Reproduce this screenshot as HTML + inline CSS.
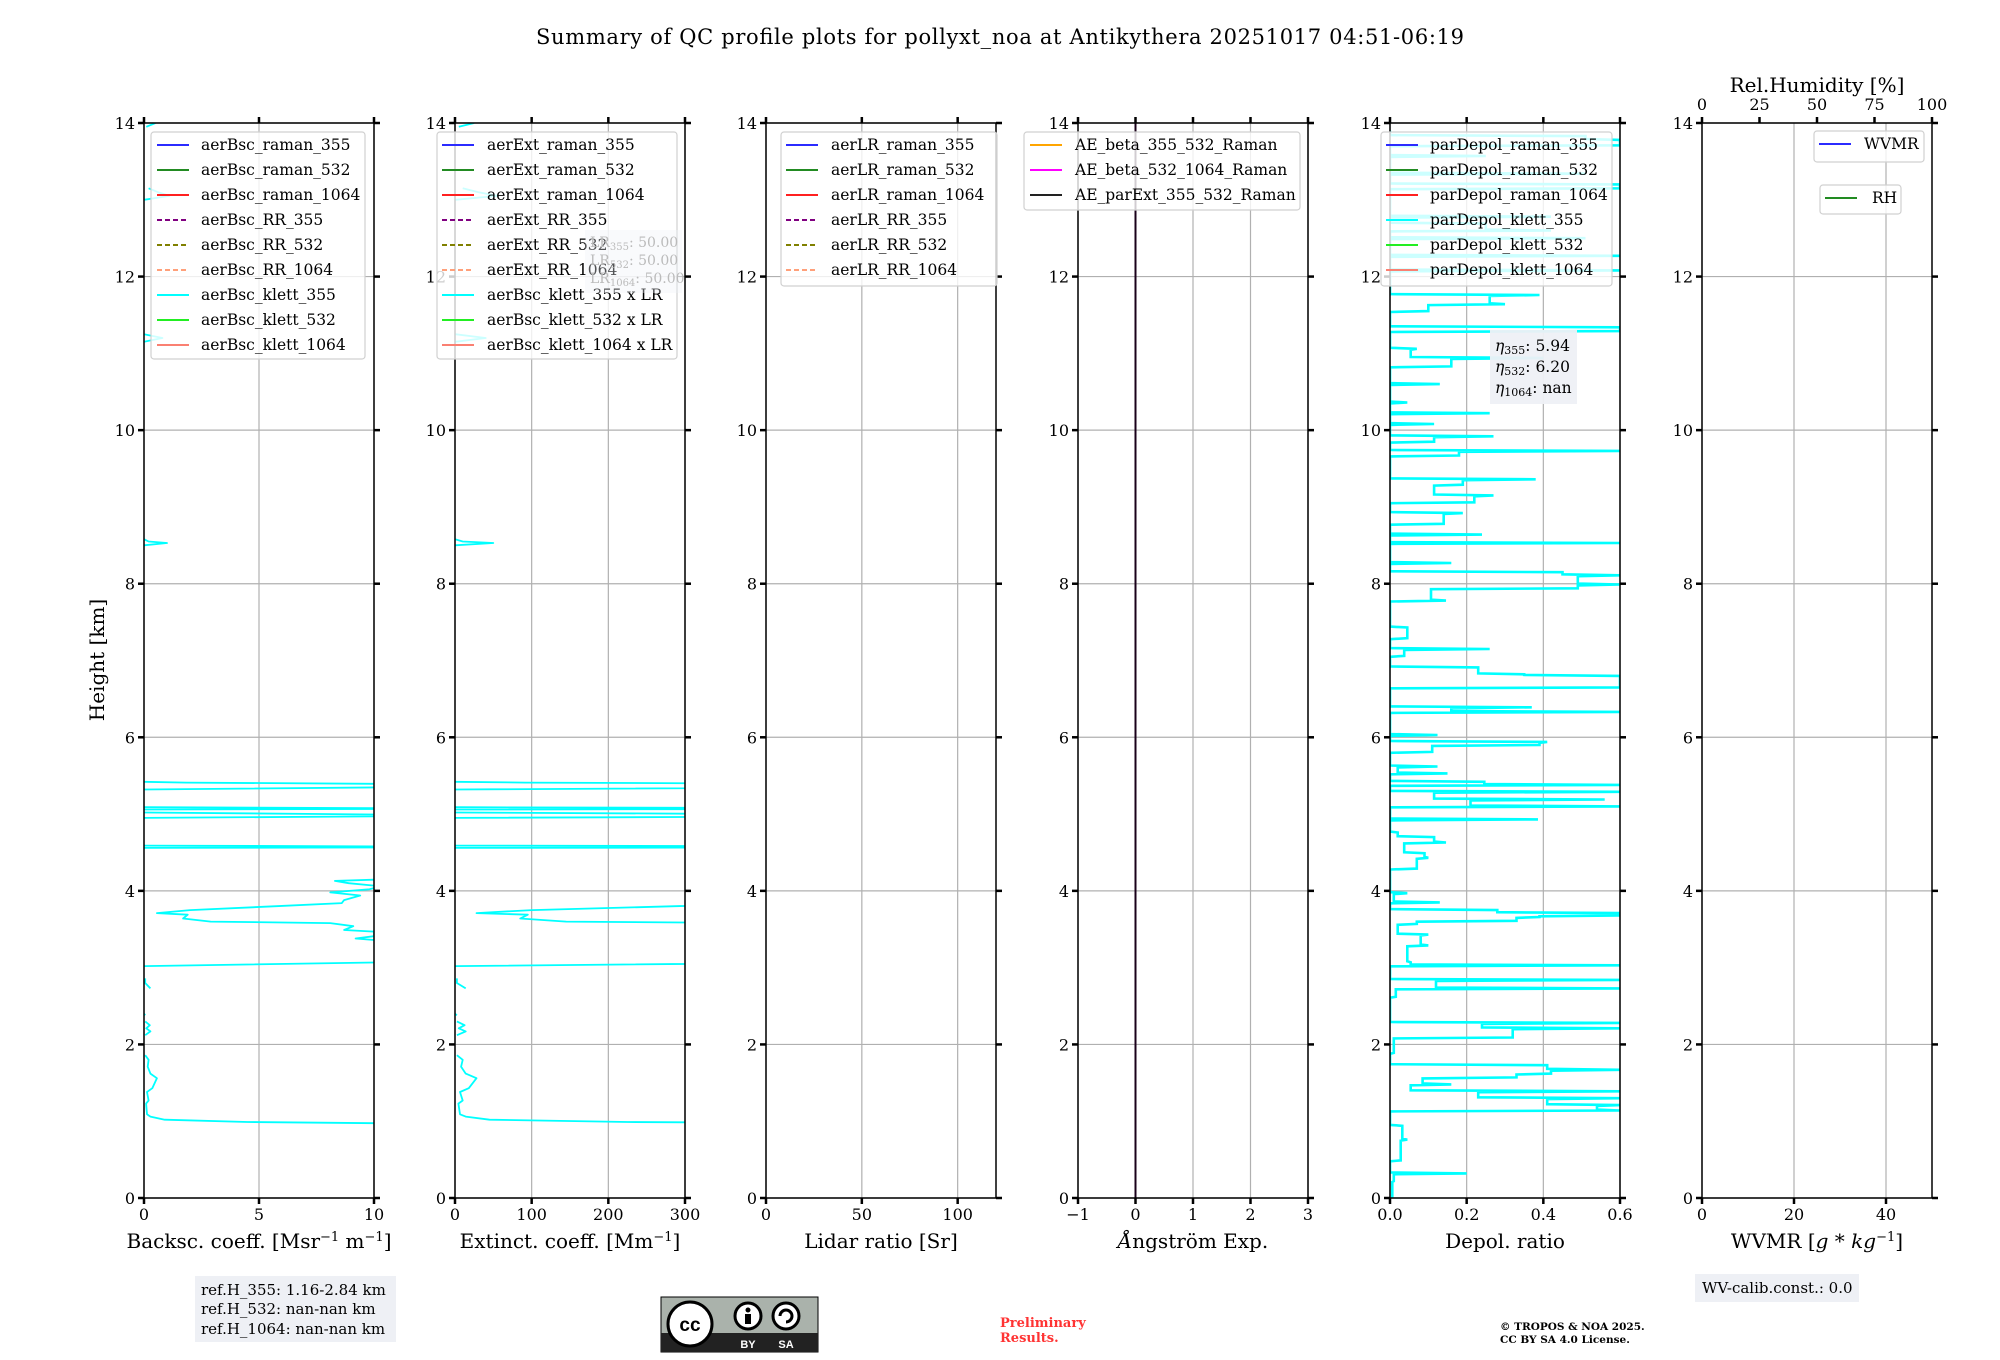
<!DOCTYPE html>
<html><head><meta charset="utf-8"><style>
html,body{margin:0;padding:0;background:#fff;}
svg{display:block;font-family:"DejaVu Serif","Liberation Serif",serif;}
</style></head><body>
<svg id="fig" width="2000" height="1360" viewBox="0 0 2000 1360" xmlns="http://www.w3.org/2000/svg">
<text x="1000" y="44" text-anchor="middle" font-size="21" textLength="928">Summary of QC profile plots for pollyxt_noa at Antikythera 20251017 04:51-06:19</text>
<text transform="translate(104,660) rotate(-90)" text-anchor="middle" font-size="20">Height [km]</text>
<g id="panels"></g>
<g>
<rect x="195" y="1276" width="201" height="66" fill="#eef0f5"/>
<text x="201" y="1295" font-size="15">ref.H_355: 1.16-2.84 km</text>
<text x="201" y="1314" font-size="15">ref.H_532: nan-nan km</text>
<text x="201" y="1334" font-size="15">ref.H_1064: nan-nan km</text>
</g>
<g>
<rect x="661" y="1297" width="157" height="55" fill="#aab2ab" stroke="#000" stroke-width="1"/>
<rect x="661" y="1333" width="157" height="19" fill="#222"/>
<circle cx="690" cy="1324" r="22" fill="#fff" stroke="#000" stroke-width="3"/>
<text x="690" y="1331" text-anchor="middle" font-size="19" font-weight="bold" font-family="Liberation Sans,sans-serif">cc</text>
<circle cx="748" cy="1316" r="13" fill="#fff" stroke="#000" stroke-width="3"/>
<circle cx="748" cy="1310" r="2.5" fill="#000"/>
<rect x="745" y="1314" width="6" height="10" fill="#000"/>
<circle cx="786" cy="1316" r="13" fill="#fff" stroke="#000" stroke-width="3"/>
<path d="M780 1316 A6 6 0 1 1 786 1322" fill="none" stroke="#000" stroke-width="3"/>
<text x="748" y="1348" text-anchor="middle" font-size="11" font-weight="bold" fill="#fff" font-family="Liberation Sans,sans-serif">BY</text>
<text x="786" y="1348" text-anchor="middle" font-size="11" font-weight="bold" fill="#fff" font-family="Liberation Sans,sans-serif">SA</text>
</g>
<text x="1000" y="1327" font-size="13" font-weight="bold" fill="#ff3333">Preliminary</text>
<text x="1000" y="1342" font-size="13" font-weight="bold" fill="#ff3333">Results.</text>
<text x="1500" y="1330" font-size="10.5" font-weight="bold">© TROPOS &amp; NOA 2025.</text>
<text x="1500" y="1343" font-size="10.5" font-weight="bold">CC BY SA 4.0 License.</text>
<g>
<rect x="1695" y="1274" width="164" height="28" fill="#eef0f5"/>
<text x="1702" y="1293" font-size="15">WV-calib.const.: 0.0</text>
</g>
</svg>
<script>
// ---- data ----
const heightTicks = [0,2,4,6,8,10,12,14];
const bscHeights = [0.96,0.99,1.02,1.06,1.09,1.23,1.27,1.38,1.43,1.56,1.62,1.71,1.80,1.86,null,
 2.12,2.17,2.21,2.25,2.30,null,2.38,2.40,null,2.73,2.80,2.86,null,
 3.02,3.09,3.14,3.36,3.38,3.41,3.47,3.49,3.54,3.58,3.60,3.64,3.69,3.71,3.75,3.80,3.84,3.88,3.94,3.98,4.02,4.06,4.10,4.13,4.15,4.19,null,
 4.56,4.57,4.59,null,4.95,4.98,5.00,5.02,null,5.06,5.07,5.09,null,5.32,5.36,5.39,5.41,5.42,null,
 8.50,8.53,8.55,8.58,null,11.15,11.2,11.25,null,13.0,13.05,13.1,13.15,null,13.95,14.0];
const bscValues = [15,4.5,0.9,0.28,0.13,0.09,0.2,0.13,0.36,0.56,0.28,0.16,0.2,0.05,null,
 0.05,0.28,0.1,0.25,0.05,null,0.05,0.0,null,0.28,0.05,0.05,null,
 0.0,15,14,10,9.2,10,10,8.7,9.1,8.1,2.9,1.7,1.9,0.56,2.0,5.75,8.6,8.7,9.4,8.1,9.8,10.3,8.9,8.3,10.5,12,null,
 0,20,0,null,0,15,8.25,0,null,0,15,0,null,0,15,12,1.85,0,null,
 0,1.0,0.2,0,null,0,0.8,0,null,0,1.1,0.6,0.2,null,0.1,0.5];
const lidarRatio = 50;
const depolHeights = [0.0,0.22,0.32,0.35,0.49,0.76,0.94,1.03,1.14,1.18,1.21,1.26,1.30,1.35,1.39,1.44,1.48,1.53,1.57,1.62,1.67,1.73,1.80,1.89,
 2.09,2.21,2.25,2.28,2.34,2.62,2.73,2.75,2.84,2.93,3.03,3.07,3.16,3.25,3.29,3.38,3.43,3.52,3.57,3.61,3.66,3.68,3.71,3.75,3.79,3.85,3.90,3.97,
 4.24,4.29,4.43,4.49,4.56,4.63,4.70,4.76,4.79,4.93,5.01,5.10,5.15,5.19,5.24,5.29,5.33,5.38,5.42,5.44,5.53,5.58,5.62,5.67,5.81,5.90,5.94,5.99,
 6.03,6.10,6.28,6.33,6.35,6.39,6.46,6.65,6.73,6.80,6.82,6.87,6.91,6.96,7.06,7.15,7.20,7.29,7.43,7.53,7.78,7.85,7.94,7.99,8.04,8.11,8.15,8.22,8.27,
 8.46,8.53,8.57,8.64,8.71,8.78,8.92,8.99,9.06,9.15,9.22,9.29,9.36,9.43,9.67,9.73,9.80,9.85,9.92,10.04,10.08,10.15,10.22,10.29,10.36,10.48,10.60,10.69,
 10.83,10.94,10.99,11.06,11.13,11.29,11.34,11.36,11.55,11.64,11.71,11.76,11.80,12.08,12.18,12.27,12.36,12.50,12.55,12.60,12.69,12.73,12.78,12.87,
 13.15,13.20,13.27,13.34,13.43,13.57,13.64,13.71,13.78,13.83,13.85,13.90];
const depolValues = [0.006,0.01,0.2,0.0,0.028,0.045,0.032,0.0,0.6,0.54,0.6,0.41,0.6,0.23,0.6,0.054,0.16,0.085,0.33,0.42,0.6,0.41,0.0,0.01,
 0.32,0.6,0.24,0.6,0.0,0.015,0.6,0.12,0.6,0.0,0.6,0.054,0.045,0.045,0.1,0.08,0.1,0.02,0.07,0.33,0.39,0.6,0.6,0.28,0.0,0.13,0.01,0.045,
 0.0,0.07,0.1,0.09,0.037,0.146,0.115,0.02,0.0,0.386,0.0,0.6,0.21,0.56,0.115,0.6,0.0,0.6,0.246,0.0,0.15,0.02,0.124,0.0,0.11,0.39,0.41,0.0,
 0.124,0.0,0.0,0.6,0.16,0.37,0.0,0.6,0.6,0.6,0.35,0.23,0.23,0.0,0.037,0.26,0.0,0.045,0.045,0.0,0.146,0.107,0.49,0.6,0.49,0.6,0.45,0.0,0.16,
 0.0,0.6,0.0,0.24,0.0,0.14,0.19,0.0,0.22,0.27,0.115,0.19,0.38,0.0,0.18,0.6,0.0,0.115,0.27,0.0,0.115,0.0,0.26,0.0,0.045,0.0,0.13,0.0,
 0.16,0.4,0.054,0.07,0.0,0.6,0.6,0.0,0.1,0.3,0.26,0.39,0.0,0.6,0.0,0.6,0.0,0.51,0.0,0.42,0.25,0.0,0.42,0.0,
 0.6,0.6,0.0,0.51,0.0,0.25,0.0,0.6,0.6,0.51,0.0,0.0];
const aeHeights = [0,14];
const aeValues = [0,0];

// ---- layout ----
const NS="http://www.w3.org/2000/svg";
const Y0=1198, Y14=123, PW=230;
const lefts=[144,455,766,1078,1390,1702];
const yOf=h=>Y0-(h/14)*(Y0-Y14);
const panelsG=document.getElementById('panels');
function mk(tag,attrs,parent){const e=document.createElementNS(NS,tag);for(const k in attrs)e.setAttribute(k,attrs[k]);(parent||panelsG).appendChild(e);return e;}
const panels=[
 {dom:[0,10],ticks:[0,5,10],labels:['0','5','10'],xl:'Backsc. coeff. [Msr<tspan dy="-7" font-size="13">−1</tspan><tspan dy="7"> m</tspan><tspan dy="-7" font-size="13">−1</tspan><tspan dy="7">]</tspan>',name:'backscatter'},
 {dom:[0,300],ticks:[0,100,200,300],labels:['0','100','200','300'],xl:'Extinct. coeff. [Mm<tspan dy="-7" font-size="13">−1</tspan><tspan dy="7">]</tspan>',name:'extinction'},
 {dom:[0,120],ticks:[0,50,100],labels:['0','50','100'],xl:'Lidar ratio [Sr]',name:'lidar-ratio'},
 {dom:[-1,3],ticks:[-1,0,1,2,3],labels:['−1','0','1','2','3'],xl:'<tspan font-style="italic">Å</tspan>ngström Exp.',name:'angstrom'},
 {dom:[0,0.6],ticks:[0,0.2,0.4,0.6],labels:['0.0','0.2','0.4','0.6'],xl:'Depol. ratio',name:'depol'},
 {dom:[0,50],ticks:[0,20,40],labels:['0','20','40'],xl:'WVMR [<tspan font-style="italic">g</tspan> * <tspan font-style="italic">kg</tspan><tspan dy="-7" font-size="13">−1</tspan><tspan dy="7">]</tspan>',name:'wvmr'}
];
function pathFrom(hs,vs,xf){let d='',pen=false;for(let i=0;i<hs.length;i++){if(hs[i]===null||vs[i]===null){pen=false;continue;}d+=(pen?'L':'M')+xf(vs[i]).toFixed(1)+' '+yOf(hs[i]).toFixed(1)+' ';pen=true;}return d;}
function stepPath(hs,vs,xf){
 let d='M'+xf(vs[0]).toFixed(1)+' '+yOf(hs[0]).toFixed(1)+' ';
 for(let i=1;i<hs.length;i++){
  const v1=vs[i-1],v2=vs[i],h1=hs[i-1],h2=hs[i],e=0.012;
  if(v2>=v1){d+='L'+xf(v1).toFixed(1)+' '+yOf(Math.max(h1,h2-e)).toFixed(1)+' L'+xf(v2).toFixed(1)+' '+yOf(h2).toFixed(1)+' ';}
  else{d+='L'+xf(v2).toFixed(1)+' '+yOf(Math.min(h2,h1+e)).toFixed(1)+' L'+xf(v2).toFixed(1)+' '+yOf(h2).toFixed(1)+' ';}
 }
 return d;
}
panels.forEach((p,i)=>{
 const L=lefts[i],R=L+PW;
 const xf=v=>L+(v-p.dom[0])/(p.dom[1]-p.dom[0])*PW;
 const g=mk('g',{});
 
 
 const cp=mk('clipPath',{id:'cp'+i},g);mk('rect',{x:L,y:Y14,width:PW,height:Y0-Y14},cp);
 heightTicks.forEach(h=>{const l=mk('line',{x1:L,x2:R,y1:yOf(h),y2:yOf(h),stroke:'#b0b0b0','stroke-width':1.2},g);
  });
 p.ticks.forEach(t=>{const l=mk('line',{x1:xf(t),x2:xf(t),y1:Y14,y2:Y0,stroke:'#b0b0b0','stroke-width':1.2},g);
  });
 const dg=mk('g',{'clip-path':'url(#cp'+i+')'},g);
 if(i===0||i===1){const f=i===0?(v=>v):(v=>v*lidarRatio);
  const pa=mk('path',{d:pathFrom(bscHeights,bscValues.map(v=>v===null?null:f(v)),xf),fill:'none',stroke:'#00ffff','stroke-width':1.8,'stroke-linejoin':'round'},dg);
  }
 if(i===3){const pa=mk('path',{d:pathFrom(aeHeights,aeValues,xf),fill:'none',stroke:'#1a001a','stroke-width':2},dg);
  }
 if(i===4){const pa=mk('path',{d:stepPath(depolHeights,depolValues,xf),fill:'none',stroke:'#00ffff','stroke-width':2.6},dg);
  }
 mk('rect',{x:L,y:Y14,width:PW,height:Y0-Y14,fill:'none',stroke:'#000','stroke-width':1.5},g);
 heightTicks.forEach(h=>{const y=yOf(h);
  mk('line',{x1:L-6,x2:L,y1:y,y2:y,stroke:'#000','stroke-width':2.5},g);
  mk('line',{x1:R,x2:R+6,y1:y,y2:y,stroke:'#000','stroke-width':2.5},g);
  const t=mk('text',{x:L-9,y:y+6,'text-anchor':'end','font-size':16},g);t.textContent=h;
  });
 p.ticks.forEach((tk,j)=>{const x=xf(tk);
  mk('line',{x1:x,x2:x,y1:Y0,y2:Y0+6,stroke:'#000','stroke-width':2.5},g);
  if(i!==5)mk('line',{x1:x,x2:x,y1:Y14-6,y2:Y14,stroke:'#000','stroke-width':2.5},g);
  const t=mk('text',{x:x,y:1220,'text-anchor':'middle','font-size':16},g);t.textContent=p.labels[j];
  });
 const xl=mk('text',{x:L+PW/2,y:1248,'text-anchor':'middle','font-size':20},g);xl.innerHTML=p.xl;
 
 if(i===5){[0,25,50,75,100].forEach(v=>{const x=L+v/100*PW;
   mk('line',{x1:x,x2:x,y1:Y14-6,y2:Y14,stroke:'#000','stroke-width':2.5},g);
   const t=mk('text',{x:x,y:110,'text-anchor':'middle','font-size':16},g);t.textContent=v;
   });
  const rt=mk('text',{x:L+PW/2,y:92,'text-anchor':'middle','font-size':20},g);rt.textContent='Rel.Humidity [%]';
  }
});
// legends
function legend(name,x,y,w,h,hx,tx,entries){
 const g=mk('g',{});
 
 
 mk('rect',{x:x,y:y,width:w,height:h,rx:3,fill:'#fff','fill-opacity':0.8,stroke:'#d0d0d0','stroke-width':1.2},g);
 entries.forEach((e,k)=>{const cy=y+13+k*25;
  const a={x1:hx,x2:hx+32,y1:cy,y2:cy,stroke:e[1],'stroke-width':2};if(e[2])a['stroke-dasharray']='5,3';
  mk('line',a,g);const t=mk('text',{x:tx,y:cy+5,'font-size':15.5},g);t.textContent=e[0];});
}
const C={b:'#2b2bff',g:'#228b22',r:'#ff2020',pu:'#800080',ol:'#808000',ls:'#ffa07a',cy:'#00ffff',li:'#22ee22',sa:'#fa8072'};
legend('backscatter-legend',151,132,214,227,157,201,[['aerBsc_raman_355',C.b],['aerBsc_raman_532',C.g],['aerBsc_raman_1064',C.r],['aerBsc_RR_355',C.pu,1],['aerBsc_RR_532',C.ol,1],['aerBsc_RR_1064',C.ls,1],['aerBsc_klett_355',C.cy],['aerBsc_klett_532',C.li],['aerBsc_klett_1064',C.sa]]);
legend('extinction-legend',437,132,240,227,442,487,[['aerExt_raman_355',C.b],['aerExt_raman_532',C.g],['aerExt_raman_1064',C.r],['aerExt_RR_355',C.pu,1],['aerExt_RR_532',C.ol,1],['aerExt_RR_1064',C.ls,1],['aerBsc_klett_355 x LR',C.cy],['aerBsc_klett_532 x LR',C.li],['aerBsc_klett_1064 x LR',C.sa]]);
legend('lidar-ratio-legend',781,132,216,154,786,831,[['aerLR_raman_355',C.b],['aerLR_raman_532',C.g],['aerLR_raman_1064',C.r],['aerLR_RR_355',C.pu,1],['aerLR_RR_532',C.ol,1],['aerLR_RR_1064',C.ls,1]]);
legend('angstrom-legend',1024,132,276,78,1030,1075,[['AE_beta_355_532_Raman','#ffa500'],['AE_beta_532_1064_Raman','#ff00ff'],['AE_parExt_355_532_Raman','#222']]);
legend('depol-legend',1381,132,231,154,1386,1430,[['parDepol_raman_355',C.b],['parDepol_raman_532',C.g],['parDepol_raman_1064',C.r],['parDepol_klett_355',C.cy],['parDepol_klett_532',C.li],['parDepol_klett_1064',C.sa]]);
legend('wvmr-legend',1814,131,110,31,1819,1864,[['WVMR',C.b]]);
legend('rh-legend',1820,185,81,29,1825,1872,[['RH',C.g]]);
// annotation boxes
(function(){
 const g=mk('g',{});
 
 
 mk('rect',{x:585,y:230,width:97,height:63,fill:'#eef0f5','fill-opacity':0.35},g);
 ['355','532','1064'].forEach((s,k)=>{const t=mk('text',{x:590,y:247+k*18,'font-size':14,fill:'#bbb'},g);
  t.innerHTML='LR<tspan font-size="10" dy="3">'+s+'</tspan><tspan dy="-3">: 50.00</tspan>';});
 const e=mk('g',{});
 
 
 mk('rect',{x:1490,y:330,width:87,height:74,fill:'#eef0f5','fill-opacity':0.95},e);
 [['355','5.94'],['532','6.20'],['1064','nan']].forEach((s,k)=>{const t=mk('text',{x:1495,y:351+k*21,'font-size':15.5},e);
  t.innerHTML='<tspan font-style="italic">η</tspan><tspan font-size="11" dy="3">'+s[0]+'</tspan><tspan dy="-3">: '+s[1]+'</tspan>';});
})();
</script>
</body></html>
